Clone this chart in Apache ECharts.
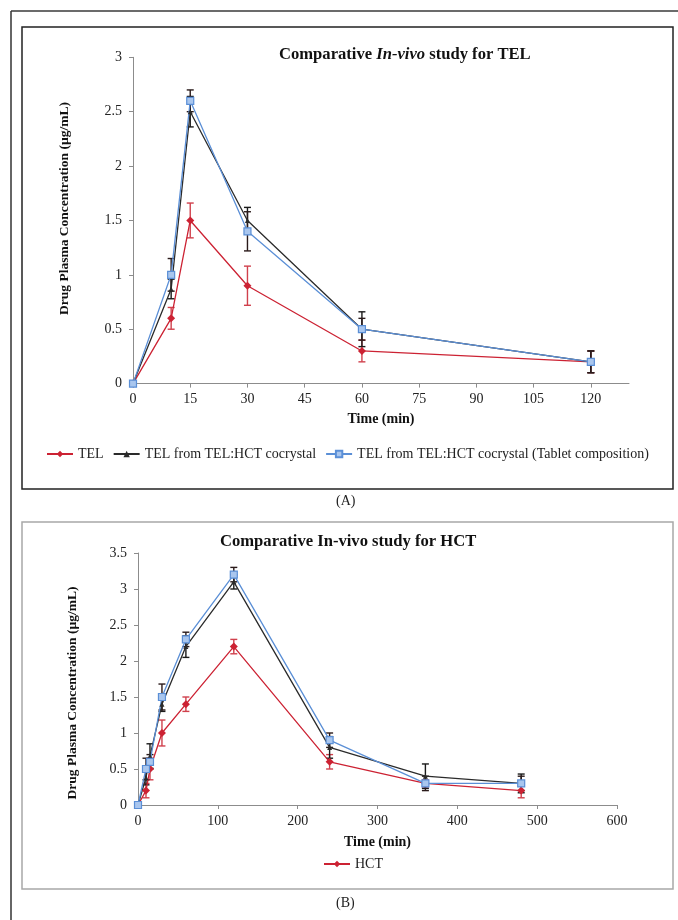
<!DOCTYPE html>
<html><head><meta charset="utf-8">
<script src="https://cdn.jsdelivr.net/npm/echarts@6/dist/echarts.min.js"></script>
<style>html,body{margin:0;padding:0;background:#fff}#c{width:678px;height:920px}</style>
</head><body><div id="c"></div>
<script>
// ---- data: chart A (TEL) ----
const telTime = [0, 10, 15, 30, 60, 120];
const telFree = [0, 0.6, 1.5, 0.9, 0.3, 0.2];
const telFreeErr = [0, 0.1, 0.16, 0.18, 0.1, 0.1];
const telCo = [0, 0.87, 2.5, 1.5, 0.5, 0.2];
const telCoErr = [0, 0.09, 0.14, 0.12, 0.16, 0.1];
const telTab = [0, 1.0, 2.6, 1.4, 0.5, 0.2];
const telTabErr = [0, 0.15, 0.1, 0.18, 0.1, 0.1];
const telXTicks = [0, 15, 30, 45, 60, 75, 90, 105, 120];
// ---- data: chart B (HCT) ----
const hctTime = [0, 10, 15, 30, 60, 120, 240, 360, 480];
const hctFree = [0, 0.2, 0.5, 1.0, 1.4, 2.2, 0.6, 0.3, 0.2];
const hctFreeErr = [0, 0.1, 0.15, 0.18, 0.1, 0.1, 0.1, 0.05, 0.1];
const hctCo = [0, 0.38, 0.68, 1.4, 2.2, 3.1, 0.8, 0.4, 0.3];
const hctCoErr = [0, 0.1, 0.17, 0.1, 0.15, 0.1, 0.15, 0.17, 0.13];
const hctTab = [0, 0.5, 0.6, 1.5, 2.3, 3.2, 0.9, 0.3, 0.3];
const hctTabErr = [0, 0.15, 0.1, 0.18, 0.1, 0.1, 0.1, 0.1, 0.1];

const names = ['TEL', 'TEL from TEL:HCT cocrystal', 'TEL from TEL:HCT cocrystal (Tablet composition)'];
const FONT = 'Liberation Serif';
const RED = '#CC2233', BLACK = '#2b2b2b', BLUE = '#5B8FD6';
const AXC = '#8c8c8c';

function pts(t, v) { return t.map((x, i) => [x, v[i]]); }
function errData(t, v, e) { return t.map((x, i) => [x, v[i] - e[i], v[i] + e[i]]).filter((d, i) => e[i] > 0); }

function errSeries(name, gi, t, v, e, color) {
  return {
    type: 'custom', name: name, xAxisIndex: gi, yAxisIndex: gi, z: 3,
    data: errData(t, v, e), silent: true,
    renderItem: function (params, api) {
      const x = api.value(0);
      const p1 = api.coord([x, api.value(1)]);
      const p2 = api.coord([x, api.value(2)]);
      const w = 3.5;
      const st = { stroke: color, lineWidth: 1.4 };
      return { type: 'group', children: [
        { type: 'line', shape: { x1: p1[0], y1: p1[1], x2: p2[0], y2: p2[1] }, style: st },
        { type: 'line', shape: { x1: p1[0] - w, y1: p1[1], x2: p1[0] + w, y2: p1[1] }, style: st },
        { type: 'line', shape: { x1: p2[0] - w, y1: p2[1], x2: p2[0] + w, y2: p2[1] }, style: st }
      ] };
    }
  };
}

function lineSeries(name, gi, t, v, kind) {
  const s = { type: 'line', name: name, xAxisIndex: gi, yAxisIndex: gi, data: pts(t, v), z: 4,
    showAllSymbol: true, animation: false };
  if (kind === 'red') {
    Object.assign(s, { symbol: 'diamond', symbolSize: 8, lineStyle: { color: RED, width: 1.3 }, itemStyle: { color: RED } });
  } else if (kind === 'black') {
    Object.assign(s, { symbol: 'triangle', symbolSize: 5, lineStyle: { color: BLACK, width: 1.3 }, itemStyle: { color: BLACK } });
  } else {
    Object.assign(s, { symbol: 'rect', symbolSize: 7, lineStyle: { color: BLUE, width: 1.3 }, itemStyle: { color: '#A9C6EE', borderColor: BLUE, borderWidth: 1.2 } });
  }
  return s;
}

function xAxis(gi, max, interval, ticks, nameGap) {
  const o = {
    type: 'value', gridIndex: gi, min: 0, max: max, interval: interval,
    name: 'Time (min)', nameLocation: 'middle', nameGap: nameGap,
    nameTextStyle: { fontFamily: FONT, fontWeight: 'bold', fontSize: 14, color: '#111' },
    axisLine: { show: true, lineStyle: { color: AXC, width: 1 } },
    axisTick: { show: true, length: 4, lineStyle: { color: AXC } },
    axisLabel: { fontFamily: FONT, fontSize: 14, color: '#222', margin: 9 },
    splitLine: { show: false }
  };
  if (ticks) { o.axisTick.customValues = ticks; o.axisLabel.customValues = ticks; }
  return o;
}
function yAxis(gi, max, nameGap, namePad) {
  return {
    type: 'value', gridIndex: gi, min: 0, max: max, interval: 0.5,
    name: 'Drug Plasma Concentration (µg/mL)', nameLocation: 'middle', nameGap: nameGap,
    nameTextStyle: { fontFamily: FONT, fontWeight: 'bold', fontSize: 13.5, color: '#111', padding: namePad },
    axisLine: { show: true, lineStyle: { color: AXC, width: 1 } },
    axisTick: { show: true, length: 4, lineStyle: { color: AXC } },
    axisLabel: { fontFamily: FONT, fontSize: 14, color: '#222', margin: 11 },
    splitLine: { show: false }
  };
}

const chart = echarts.init(document.getElementById('c'));
chart.setOption({
  animation: false,
  backgroundColor: '#fff',
  title: [
    { text: '{b|Comparative }{i|In-vivo}{b| study for TEL}', left: 279, top: 46, padding: 0,
      textStyle: { rich: {
        b: { fontFamily: FONT, fontWeight: 'bold', fontSize: 16.6, color: '#111' },
        i: { fontFamily: FONT, fontWeight: 'bold', fontStyle: 'italic', fontSize: 16.6, color: '#111' } } } },
    { text: 'Comparative In-vivo study for HCT', left: 220, top: 533, padding: 0,
      textStyle: { fontFamily: FONT, fontWeight: 'bold', fontSize: 16.6, color: '#111' } },
    { text: '(A)', left: 336, top: 494, padding: 0, textStyle: { fontFamily: FONT, fontWeight: 'normal', fontSize: 14, color: '#222' } },
    { text: '(B)', left: 336, top: 896, padding: 0, textStyle: { fontFamily: FONT, fontWeight: 'normal', fontSize: 14, color: '#222' } }
  ],
  graphic: [
    { type: 'line', shape: { x1: 11, y1: 11, x2: 678, y2: 11 }, style: { stroke: '#6b6b6b', lineWidth: 2 }, z: 1 },
    { type: 'line', shape: { x1: 11, y1: 11, x2: 11, y2: 920 }, style: { stroke: '#333', lineWidth: 1.5 }, z: 1 },
    { type: 'rect', shape: { x: 22, y: 27, width: 651, height: 462 }, style: { fill: 'none', stroke: '#222', lineWidth: 1.5 }, z: 1 },
    { type: 'rect', shape: { x: 22, y: 522, width: 651, height: 367 }, style: { fill: 'none', stroke: '#a8a8a8', lineWidth: 1.5 }, z: 1 }
  ],
  legend: [
    { data: names, left: 46, top: 447, itemWidth: 26, itemHeight: 8, itemGap: 9, padding: 0,
      textStyle: { fontFamily: FONT, fontSize: 14, color: '#222', lineHeight: 14 } },
    { data: ['HCT'], left: 323, top: 857, itemWidth: 26, itemHeight: 8, padding: 0,
      textStyle: { fontFamily: FONT, fontSize: 14, color: '#222', lineHeight: 14 } }
  ],
  grid: [
    { left: 133, top: 57.3, right: 49, bottom: 536.4, containLabel: false },
    { left: 138, top: 553, right: 61, bottom: 115, containLabel: false }
  ],
  xAxis: [ xAxis(0, 130, 15, telXTicks, 29), xAxis(1, 600, 100, null, 30) ],
  yAxis: [ yAxis(0, 3, 61, [0, 0, 0, 24]), yAxis(1, 3.5, 58, [0, 28, 0, 0]) ],
  series: [
    errSeries('e1', 0, telTime, telFree, telFreeErr, '#D0404C'),
    errSeries('e2', 0, telTime, telCo, telCoErr, '#1a1a1a'),
    errSeries('e3', 0, telTime, telTab, telTabErr, '#2a1a1a'),
    lineSeries(names[0], 0, telTime, telFree, 'red'),
    lineSeries(names[1], 0, telTime, telCo, 'black'),
    lineSeries(names[2], 0, telTime, telTab, 'blue'),
    errSeries('e4', 1, hctTime, hctFree, hctFreeErr, '#D0404C'),
    errSeries('e5', 1, hctTime, hctCo, hctCoErr, '#1a1a1a'),
    errSeries('e6', 1, hctTime, hctTab, hctTabErr, '#2a1a1a'),
    lineSeries('HCT', 1, hctTime, hctFree, 'red'),
    lineSeries('HCT from TEL:HCT cocrystal', 1, hctTime, hctCo, 'black'),
    lineSeries('HCT from TEL:HCT cocrystal (Tablet composition)', 1, hctTime, hctTab, 'blue')
  ]
});
</script></body></html>
